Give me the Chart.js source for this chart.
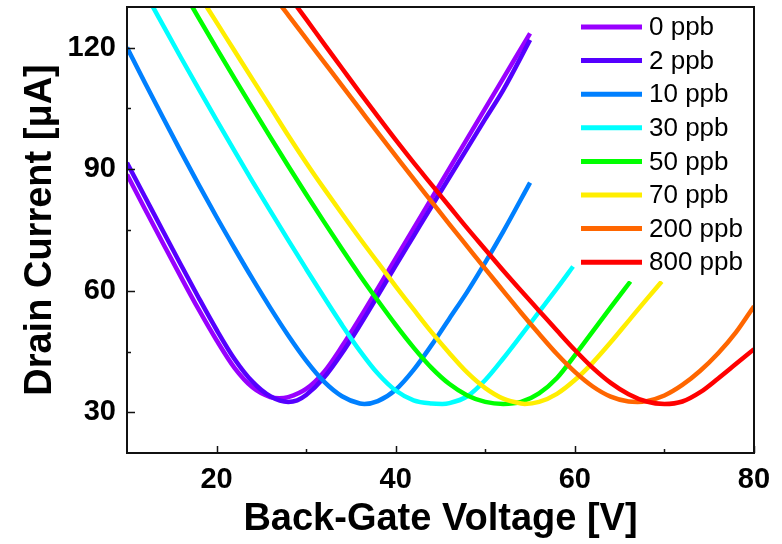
<!DOCTYPE html>
<html>
<head>
<meta charset="utf-8">
<script src="https://cdn.jsdelivr.net/npm/chart.js@4.4.1/dist/chart.umd.min.js"></script>
<style>
  body { margin: 0; background: #fff; }
  #wrap { width: 782px; height: 544px; }
</style>
</head>
<body>
<div id="wrap"><canvas id="transfer" width="782" height="544"></canvas></div>
<script>
// gas concentrations (legend)
var labels = ['0 ppb', '2 ppb', '10 ppb', '30 ppb', '50 ppb', '70 ppb', '200 ppb', '800 ppb'];
var colors = ['#9900ff', '#5500ff', '#0080ff', '#00ffff', '#00ff00', '#ffee00', '#ff6600', '#ff0000'];

// back-gate voltage [V] and drain current [uA]
var v0 = [10, 12, 14, 16, 18, 20, 22, 24, 26, 27, 28, 30, 32, 34, 36, 38, 40, 42, 44, 46, 48, 50, 52, 55];
var i0 = [88.7, 80.2, 71.8, 63.5, 55.4, 47.8, 41.0, 36.2, 33.8, 33.5, 33.8, 35.8, 40.0, 46.3, 53.3, 60.6, 68.0, 75.4, 82.8, 90.2, 97.6, 105.0, 112.4, 123.5];

var v2 = [10, 12, 14, 16, 18, 20, 22, 24, 26, 28, 29, 30, 32, 34, 36, 38, 40, 42, 44, 46, 48, 50, 52, 55];
var i2 = [91.6, 83.2, 74.8, 66.5, 58.3, 50.4, 43.2, 37.6, 34.0, 32.6, 33.0, 34.3, 38.6, 44.6, 51.5, 58.8, 66.2, 73.5, 80.8, 88.0, 95.2, 102.4, 109.5, 121.9];

var v10 = [10, 12, 14, 16, 18, 20, 22, 24, 26, 28, 30, 32, 34, 36, 36.5, 38, 40, 42, 44, 46, 48, 50, 52, 55];
var i10 = [120, 111.3, 102.8, 94.4, 86.2, 78.2, 70.5, 63.0, 55.8, 49.0, 42.8, 37.6, 34.0, 32.2, 32.1, 32.8, 35.6, 40.5, 46.6, 53.2, 59.8, 67.0, 74.6, 86.7];

var v30 = [12, 14, 16, 18, 20, 22, 24, 26, 28, 30, 32, 34, 36, 38, 40, 42, 44, 45.2, 46, 48, 50, 52, 54, 56, 58, 59.8];
var i30 = [133.6, 125.6, 117.6, 109.8, 102.1, 94.5, 87.0, 79.7, 72.5, 65.4, 58.4, 51.6, 45.2, 39.6, 35.4, 33.0, 32.2, 32.1, 32.3, 34.0, 38.0, 43.3, 49.0, 54.8, 60.6, 66.0];

var v50 = [16, 18, 20, 22, 24, 26, 28, 30, 32, 34, 36, 38, 40, 42, 44, 46, 48, 50, 52, 54, 56, 58, 60, 62, 64, 66.2];
var i50 = [135, 127.3, 119.8, 112.4, 105.1, 97.9, 90.8, 83.8, 77.0, 70.3, 63.8, 57.6, 51.6, 46.0, 41.0, 37.0, 34.2, 32.6, 32.1, 32.6, 34.7, 38.5, 44.1, 50.0, 55.9, 62.3];

var v70 = [18, 20, 22, 24, 26, 28, 30, 32, 34, 36, 38, 40, 42, 44, 46, 48, 50, 52, 54, 54.4, 56, 58, 60, 62, 64, 66, 68, 69.7];
var i70 = [133.2, 126.2, 119.2, 112.2, 105.3, 98.3, 91.6, 85.2, 79.0, 72.9, 67.0, 61.1, 55.4, 49.8, 44.6, 39.8, 36.0, 33.4, 32.2, 32.1, 32.6, 34.6, 38.0, 42.3, 47.3, 52.6, 57.9, 62.3];

var v200 = [26, 28, 30, 32, 34, 36, 38, 40, 42, 44, 46, 48, 50, 52, 54, 56, 58, 60, 62, 64, 66, 67, 68, 70, 72, 74, 76, 78, 80];
var i200 = [133.8, 128.0, 122.2, 116.4, 110.6, 104.8, 99.0, 93.3, 87.6, 82.0, 76.4, 70.9, 65.4, 60.0, 54.6, 49.4, 44.4, 40.0, 36.4, 33.9, 32.7, 32.6, 32.8, 34.2, 36.8, 40.3, 44.6, 49.8, 56.2];

var v800 = [28, 30, 32, 34, 36, 38, 40, 42, 44, 46, 48, 50, 52, 54, 56, 58, 60, 62, 64, 66, 68, 70, 72, 74, 76, 78, 80];
var i800 = [133.0, 127.0, 120.9, 114.9, 108.9, 103.0, 97.2, 91.6, 86.2, 80.8, 75.4, 70.2, 65.0, 60.0, 55.1, 50.2, 45.4, 41.0, 37.3, 34.5, 32.7, 32.1, 32.7, 35.0, 38.4, 42.0, 45.6];

var xTicks = [20, 40, 60, 80];
var xMinor = [30, 50, 70];
var yTicks = [30, 60, 90, 120];
var yMinor = [45, 75, 105];

var vs = [v0, v2, v10, v30, v50, v70, v200, v800];
var is = [i0, i2, i10, i30, i50, i70, i200, i800];

var datasets = labels.map(function (lab, k) {
    return {
        label: lab,
        data: vs[k].map(function (v, j) { return { x: v, y: is[k][j] }; }),
        borderColor: colors[k],
        backgroundColor: colors[k],
        borderWidth: 4.5,
        borderCapStyle: 'butt',
        pointRadius: 0,
        cubicInterpolationMode: 'monotone',
        clip: 0,
        order: labels.length - k
    };
});

var FONT = '"Liberation Sans", Arial, sans-serif';

var framePlugin = {
    id: 'framePlugin',
    afterDatasetsDraw: function (chart) {
        // legend box (white, hides the lines behind it)
        var ctx = chart.ctx, a = chart.chartArea;
        ctx.save();
        ctx.fillStyle = '#fff';
        ctx.fillRect(a.right - 179, a.top + 1, 178, 273);
        ctx.font = '26px ' + FONT;
        ctx.textBaseline = 'middle';
        ctx.textAlign = 'left';
        labels.forEach(function (lab, k) {
            var y = a.top + 20 + k * 33.6;
            ctx.strokeStyle = colors[k];
            ctx.lineWidth = 5;
            ctx.beginPath();
            ctx.moveTo(a.right - 173, y);
            ctx.lineTo(a.right - 112, y);
            ctx.stroke();
            ctx.fillStyle = '#000';
            ctx.fillText(lab, a.right - 105, y + 1);
        });
        ctx.restore();
    },
    afterDraw: function (chart) {
        var ctx = chart.ctx, a = chart.chartArea;
        var xs = chart.scales.x, ys = chart.scales.y;
        ctx.save();
        ctx.strokeStyle = '#111';
        ctx.lineWidth = 2;
        ctx.strokeRect(a.left, a.top, a.right - a.left, a.bottom - a.top);
        ctx.lineWidth = 1.5;
        ctx.beginPath();
        xTicks.forEach(function (v) {
            var p = Math.round(xs.getPixelForValue(v)) + 0.5;
            ctx.moveTo(p, a.bottom); ctx.lineTo(p, a.bottom - 7);
        });
        xMinor.forEach(function (v) {
            var p = Math.round(xs.getPixelForValue(v)) + 0.5;
            ctx.moveTo(p, a.bottom); ctx.lineTo(p, a.bottom - 4);
        });
        yTicks.forEach(function (v) {
            var p = Math.round(ys.getPixelForValue(v)) + 0.5;
            ctx.moveTo(a.left, p); ctx.lineTo(a.left + 8, p);
        });
        yMinor.forEach(function (v) {
            var p = Math.round(ys.getPixelForValue(v)) + 0.5;
            ctx.moveTo(a.left, p); ctx.lineTo(a.left + 4, p);
        });
        ctx.stroke();
        ctx.restore();
    }
};

var chart = new Chart(document.getElementById('transfer').getContext('2d'), {
    type: 'line',
    data: { datasets: datasets },
    options: {
        responsive: false,
        animation: false,
        layout: { padding: { top: 7, right: 28, left: 0, bottom: 0 } },
        plugins: { legend: { display: false }, tooltip: { enabled: false } },
        scales: {
            x: {
                type: 'linear',
                min: 10,
                max: 80,
                afterBuildTicks: function (s) { s.ticks = xTicks.map(function (v) { return { value: v }; }); },
                afterFit: function (s) { s.height = 91; s.paddingLeft = 0; s.paddingRight = 0; },
                grid: { display: false, drawTicks: false },
                border: { display: false },
                ticks: { color: '#000', padding: 10, font: { family: FONT, size: 29, weight: 'bold' } },
                title: {
                    display: true,
                    text: 'Back-Gate Voltage [V]',
                    color: '#000',
                    padding: { top: 0, bottom: 2 },
                    font: { family: FONT, size: 38, weight: 'bold' }
                }
            },
            y: {
                min: 20,
                max: 130,
                afterBuildTicks: function (s) { s.ticks = yTicks.map(function (v) { return { value: v }; }); },
                afterFit: function (s) { s.width = 127; s.paddingTop = 0; s.paddingBottom = 0; },
                grid: { display: false, drawTicks: false },
                border: { display: false },
                ticks: { color: '#000', padding: 11, font: { family: FONT, size: 29, weight: 'bold' } },
                title: {
                    display: true,
                    text: 'Drain Current [\u03bcA]',
                    color: '#000',
                    padding: { top: 18, bottom: 0 },
                    font: { family: FONT, size: 38, weight: 'bold' }
                }
            }
        }
    },
    plugins: [framePlugin]
});
</script>
</body>
</html>
